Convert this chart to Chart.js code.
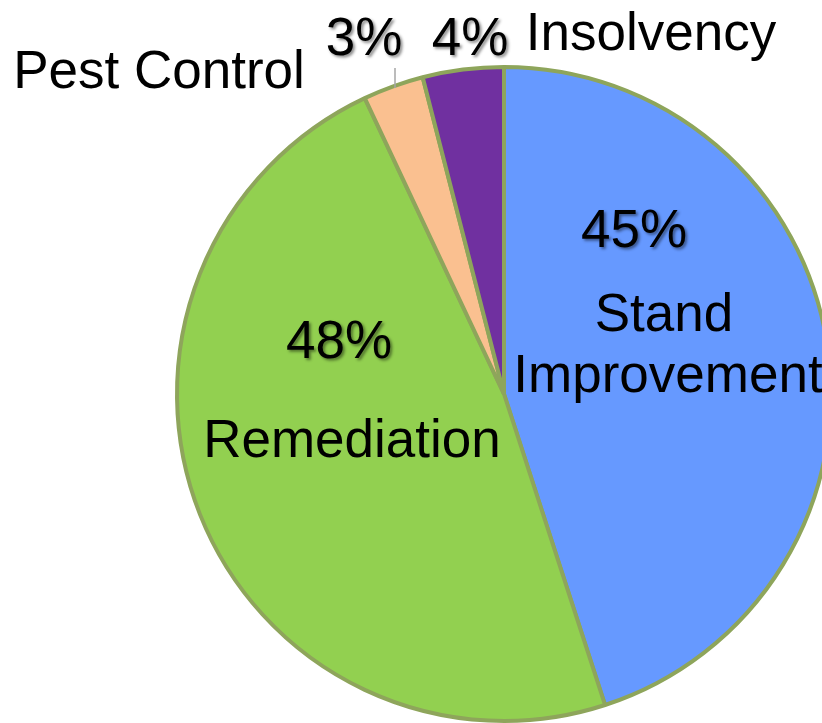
<!DOCTYPE html>
<html>
<head>
<meta charset="utf-8">
<script src="https://cdn.jsdelivr.net/npm/chart.js@4"></script>
<style>
  html, body { margin: 0; padding: 0; background: #fff; overflow: hidden; }
  #wrap { position: absolute; left: 0; top: 0; }
</style>
</head>
<body>
<div id="wrap"><canvas id="pieChart" width="840" height="730"></canvas></div>
<script>
// slices, clockwise from 12 o'clock
const categories = ['Stand Improvement', 'Remediation', 'Pest Control', 'Insolvency'];
const shares     = [45, 48, 3, 4];
const colors     = ['#6699FF', '#92D050', '#FAC090', '#7030A0'];

// where each label goes (layout only)
const labelLayout = [
    { pct: [634, 247], name: [[664, 331, 'Stand'], [668, 392, 'Improvement']] },
    { pct: [339, 358], name: [[352, 457, 'Remediation']] },
    { pct: [364, 55],  name: [[159, 88, 'Pest Control']], leader: [395, 68, 395, 88] },
    { pct: [470, 55],  name: [[651, 50, 'Insolvency']] }
];

const FONT = '53px "Liberation Sans", Arial, sans-serif';

const labelPlugin = {
    id: 'sliceLabels',
    afterDraw(chart) {
        const ctx = chart.ctx;
        const total = shares.reduce((s, v) => s + v, 0);
        ctx.save();
        ctx.font = FONT;
        ctx.textAlign = 'center';
        ctx.textBaseline = 'alphabetic';
        ctx.fillStyle = '#000';

        labelLayout.forEach((lay, i) => {
            if (lay.leader) {
                ctx.save();
                ctx.strokeStyle = '#A6A6A6';
                ctx.lineWidth = 1.5;
                ctx.beginPath();
                ctx.moveTo(lay.leader[0], lay.leader[1]);
                ctx.lineTo(lay.leader[2], lay.leader[3]);
                ctx.stroke();
                ctx.restore();
            }
            const pct = Math.round(shares[i] / total * 100) + '%';
            ctx.save();
            ctx.shadowColor = 'rgba(0,0,0,0.45)';
            ctx.shadowOffsetX = 2;
            ctx.shadowOffsetY = 2;
            ctx.shadowBlur = 3;
            ctx.fillText(pct, lay.pct[0], lay.pct[1]);
            ctx.restore();
            lay.name.forEach(([x, y, t]) => ctx.fillText(t, x, y));
        });
        ctx.restore();
    }
};

new Chart(document.getElementById('pieChart'), {
    type: 'pie',
    data: {
        labels: categories,
        datasets: [{
            data: shares,
            backgroundColor: colors,
            borderColor: '#8EA55B',
            borderWidth: 4
        }]
    },
    options: {
        responsive: false,
        animation: false,
        layout: { padding: { left: 175, right: 7, top: 65, bottom: 7 } },
        plugins: {
            legend: { display: false },
            tooltip: { enabled: false }
        }
    },
    plugins: [labelPlugin]
});
</script>
</body>
</html>
